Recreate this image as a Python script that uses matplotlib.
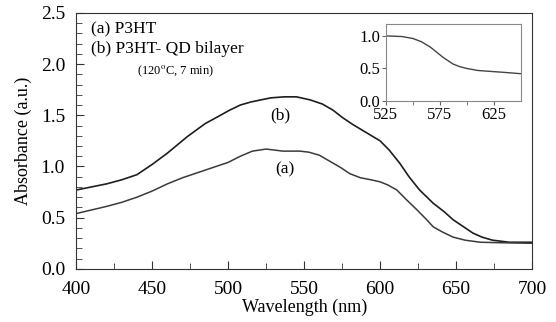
import numpy as np
import matplotlib
matplotlib.use('Agg')
import matplotlib.pyplot as plt
from matplotlib.ticker import MultipleLocator, FormatStrFormatter

plt.rcParams['font.family'] = ['Liberation Serif', 'DejaVu Serif']
plt.rcParams['mathtext.fontset'] = 'stix'

# curve (b) P3HT-QD bilayer
wl_b = [400, 420, 430, 440, 450, 460, 473, 485, 490, 501, 508, 515, 528, 537, 545,
        554, 562, 569, 575, 582, 591, 600, 606, 613, 619, 626, 635, 642, 648, 655,
        661, 667, 674, 685, 700]
abs_b = [0.77, 0.83, 0.87, 0.92, 1.02, 1.13, 1.29, 1.42, 1.46, 1.55, 1.60, 1.63,
         1.67, 1.68, 1.68, 1.65, 1.61, 1.55, 1.48, 1.41, 1.33, 1.25, 1.16, 1.03,
         0.90, 0.77, 0.64, 0.56, 0.48, 0.41, 0.35, 0.31, 0.28, 0.26, 0.26]

# curve (a) P3HT
wl_a = [400, 420, 430, 440, 450, 460, 470, 480, 490, 500, 508, 516, 525, 536, 547,
        553, 560, 567, 574, 580, 587, 594, 600, 605, 611, 617, 624, 630, 635, 641,
        648, 656, 666, 680, 700]
abs_a = [0.54, 0.61, 0.65, 0.70, 0.76, 0.83, 0.89, 0.94, 0.99, 1.04, 1.10, 1.15,
         1.17, 1.15, 1.15, 1.14, 1.11, 1.05, 0.99, 0.93, 0.89, 0.87, 0.85, 0.82,
         0.77, 0.68, 0.58, 0.49, 0.41, 0.36, 0.31, 0.28, 0.26, 0.255, 0.25]

# inset
wl_in = [525, 540, 550, 558, 566, 572, 578, 587, 593, 600, 610, 618, 635, 650]
abs_in = [1.00, 0.99, 0.96, 0.91, 0.83, 0.75, 0.67, 0.57, 0.53, 0.50, 0.47, 0.46,
          0.44, 0.42]

fig = plt.figure(figsize=(5.56, 3.22), dpi=100)
ax = fig.add_axes([0.137, 0.165, 0.82, 0.795])

ax.plot(wl_b, abs_b, color='#1e1e1e', lw=1.2)
ax.plot(wl_a, abs_a, color='#3a3a3a', lw=1.1)

ax.set_xlim(400, 700)
ax.set_ylim(0, 2.5)
ax.xaxis.set_major_locator(MultipleLocator(50))
ax.xaxis.set_minor_locator(MultipleLocator(25))
ax.yaxis.set_major_locator(MultipleLocator(0.5))
ax.yaxis.set_minor_locator(MultipleLocator(0.1))
ax.yaxis.set_major_formatter(FormatStrFormatter('%.1f'))
ax.tick_params(which='both', direction='in', labelsize=14, color='#333')
ax.tick_params(axis='x', which='major', pad=9)
ax.tick_params(axis='y', which='major', pad=8)
ax.tick_params(which='major', length=6)
ax.tick_params(which='minor', length=4)
for s in ax.spines.values():
    s.set_color('#333')
ax.set_xlabel('Wavelength (nm)', fontsize=13, labelpad=0)
ax.set_ylabel('Absorbance (a.u.)', fontsize=13, labelpad=6)

ax.text(410, 2.34, '(a) P3HT', fontsize=12.5, va='center')
ax.text(410, 2.15, '(b) P3HT- QD bilayer', fontsize=12.5, va='center')
ax.text(440, 1.93, r'(120$^{\rm o}$C, 7 min)', fontsize=9, va='center')
ax.text(534, 1.50, '(b)', fontsize=12.5, ha='center', va='center')
ax.text(537, 0.97, '(a)', fontsize=12.5, ha='center', va='center')

ins = fig.add_axes([0.694, 0.686, 0.243, 0.239])
ins.plot(wl_in, abs_in, color='#444', lw=1.0)
ins.set_xlim(525, 650)
ins.set_ylim(0, 1.18)
ins.set_xticks([525, 575, 625])
ins.set_xticks([550, 600], minor=True)
ins.yaxis.set_major_locator(MultipleLocator(0.5))
ins.yaxis.set_major_formatter(FormatStrFormatter('%.1f'))
ins.tick_params(which='both', direction='out', labelsize=12, color='#666', pad=1)
ins.tick_params(which='both', length=3)
for s in ins.spines.values():
    s.set_color('#888')

fig.savefig('out.png', dpi=100)
